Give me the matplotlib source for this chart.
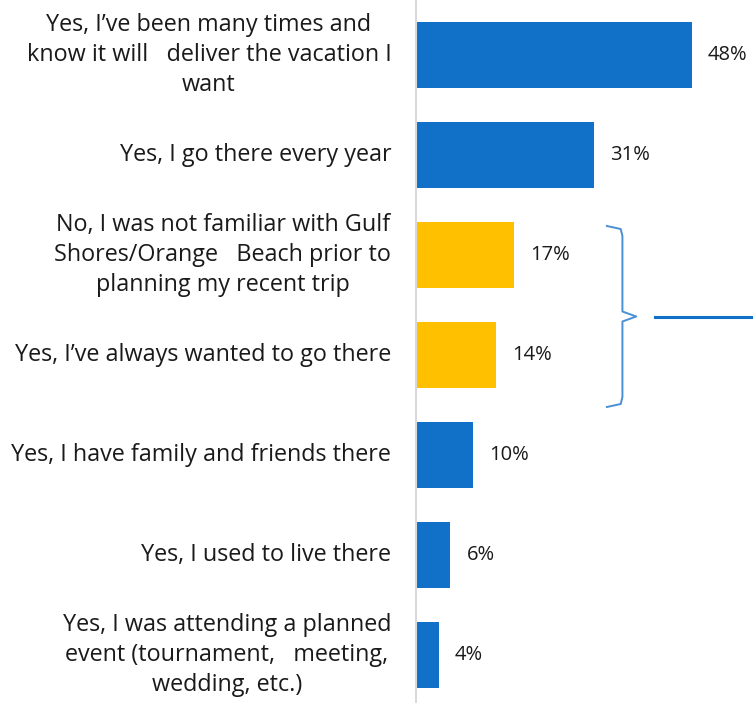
import matplotlib.pyplot as plt
from matplotlib.lines import Line2D

plt.rcParams['font.family'] = ['Open Sans', 'DejaVu Sans']

labels = [
    "Yes, I\u2019ve been many times and\nknow it will   deliver the vacation I\nwant",
    "Yes, I go there every year",
    "No, I was not familiar with Gulf\nShores/Orange   Beach prior to\nplanning my recent trip",
    "Yes, I\u2019ve always wanted to go there",
    "Yes, I have family and friends there",
    "Yes, I used to live there",
    "Yes, I was attending a planned\nevent (tournament,   meeting,\nwedding, etc.)",
]
values = [48, 31, 17, 14, 10, 6, 4]
highlight = [False, False, True, True, False, False, False]

blue = '#1170C8'
gold = '#FFC000'
colors = [gold if h else blue for h in highlight]

fig = plt.figure(figsize=(7.53, 7.03), dpi=100)
ax = fig.add_axes([416 / 753, 0, 1 - 416 / 753, 1])

pos = list(range(len(values)))
ax.barh(pos, values, height=0.66, color=colors)
ax.set_xlim(0, (753 - 416) / 5.75)
ax.set_ylim(6.48, -0.55)

for p, v in zip(pos, values):
    ax.text(v + 2.8, p, f"{v}%", va='center', ha='left', fontsize=14.5, color='#1a1a1a')

for p, lab in zip(pos, labels):
    ax.text(-4.3, p, lab, va='center', ha='right', multialignment='center',
            fontsize=16.8, color='#1a1a1a', linespacing=1.32)

for s in ['top', 'right', 'bottom']:
    ax.spines[s].set_visible(False)
ax.spines['left'].set_color('#D9D9D9')
ax.spines['left'].set_linewidth(1.5)
ax.set_xticks([])
ax.set_yticks([])

# brace around the two highlighted bars
y0, y1 = 1.71, 3.52
ym = (y0 + y1) / 2
bx = [33.2, 35.6, 35.9, 35.9, 38.3, 35.9, 35.9, 35.6, 33.2]
by = [y0, y0 + 0.03, y0 + 0.1, ym - 0.05, ym, ym + 0.05, y1 - 0.1, y1 - 0.03, y1]
ax.add_line(Line2D(bx, by, color='#4A8FD4', lw=1.4, clip_on=False))
ax.plot([41.6, 58.6], [ym, ym], color=blue, lw=2.2, clip_on=False)

fig.savefig('out.png', dpi=100)
